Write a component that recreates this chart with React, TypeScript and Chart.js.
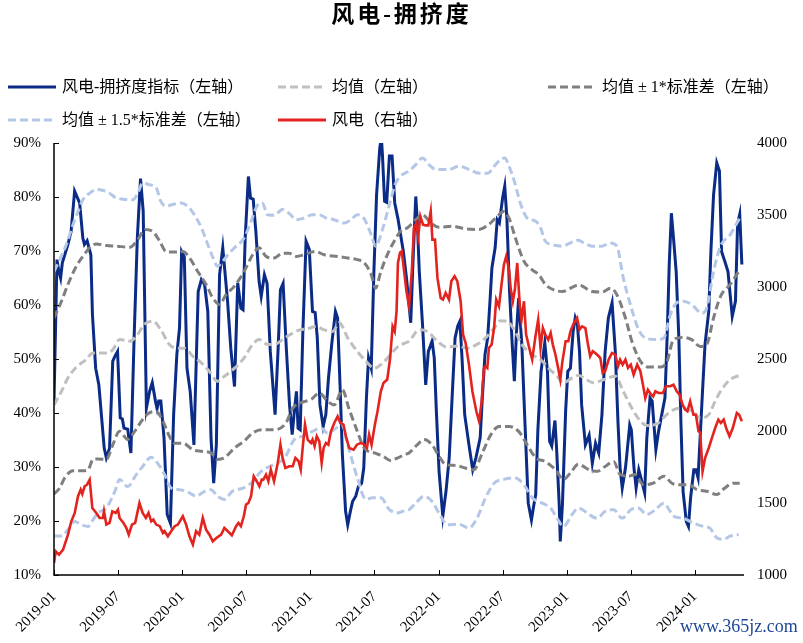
import React, { useEffect, useRef } from "react";
import { Chart, registerables } from "chart.js";

Chart.register(...registerables);

// x = months since 2019-01, y = value
const tickMonths = [0, 6, 12, 18, 24, 30, 36, 42, 48, 54, 60];
const tickLabels = ["2019-01", "2019-07", "2020-01", "2020-07", "2021-01", "2021-07", "2022-01", "2022-07", "2023-01", "2023-07", "2024-01"];

// 风电-拥挤度指标 (%), left axis
const crowding: [number, number][] = [
  [0, 42.2], [0.28, 68.4], [0.43, 66.5], [0.62, 65.0], [0.78, 67.8], [1.3, 71.2], [1.6, 73.6], [1.93, 81.1], [2.4, 78.9], [2.7, 72.4],
  [2.85, 71.2], [3.1, 71.9], [3.45, 69.3], [3.6, 58.2], [3.9, 48.3], [4.2, 45.2], [4.7, 33.5], [4.9, 31.7], [5.2, 33.5], [5.5, 49.6],
  [5.7, 50.5], [5.95, 51.4], [6.2, 39.1], [6.4, 38.9], [6.55, 37.2], [6.9, 37.0], [7.2, 32.6], [7.5, 53.9], [7.8, 72.4], [8.1, 83.4],
  [8.35, 77.4], [8.65, 40.9], [8.95, 44.0], [9.2, 45.6], [9.5, 42.2], [9.65, 40.8], [9.8, 42.2], [10.0, 42.2], [10.3, 35.4], [10.6, 21.2],
  [10.9, 19.6], [11.2, 39.7], [11.5, 50.8], [11.75, 55.7], [11.95, 69.9], [12.2, 68.9], [12.45, 48.3], [12.75, 44.0], [13.1, 34.1], [13.5, 62.5],
  [13.8, 64.7], [14.1, 63.8], [14.4, 58.8], [14.7, 35.4], [14.95, 27.0], [15.2, 34.1], [15.5, 65.6], [15.8, 70.6], [16.25, 60.7], [16.55, 52.0],
  [16.9, 44.9], [17.2, 64.1], [17.5, 59.4], [17.7, 59.1], [17.9, 72.4], [18.2, 83.8], [18.4, 79.8], [18.65, 79.6], [18.9, 73.6], [19.2, 64.4],
  [19.4, 61.6], [19.7, 65.6], [19.95, 64.0], [20.25, 51.4], [20.7, 39.7], [21.0, 52.7], [21.2, 62.8], [21.45, 64.0], [21.75, 52.0], [22.05, 41.5],
  [22.3, 36.0], [22.5, 40.3], [22.7, 44.0], [22.85, 37.2], [23.05, 36.9], [23.3, 55.1], [23.6, 71.8], [23.9, 70.3], [24.2, 58.8], [24.45, 58.6],
  [24.65, 53.9], [24.9, 41.5], [25.2, 37.5], [25.45, 39.7], [25.7, 46.5], [26.0, 52.7], [26.35, 58.8], [26.55, 57.6], [26.8, 44.0], [27.0, 32.3],
  [27.3, 21.8], [27.5, 19.3], [27.75, 21.8], [27.95, 23.6], [28.25, 24.6], [28.5, 26.4], [28.8, 27.0], [29.0, 29.8], [29.25, 42.8], [29.45, 50.2],
  [29.7, 48.3], [29.95, 66.2], [30.2, 80.4], [30.5, 89.1], [30.65, 91.0], [30.75, 87.8], [30.95, 79.2], [31.15, 79.0], [31.4, 87.6], [31.65, 87.6],
  [31.9, 78.9], [32.2, 76.0], [32.7, 70.0], [33.0, 65.0], [33.4, 56.7], [33.6, 67.5], [33.87, 80.1], [34.0, 76.1], [34.2, 66.2], [34.5, 56.4],
  [34.8, 45.2], [35.05, 51.4], [35.4, 53.3], [35.6, 50.2], [35.8, 40.3], [36.05, 29.2], [36.4, 20.9], [36.7, 25.5], [37.0, 31.7], [37.3, 44.0],
  [37.55, 53.9], [37.8, 56.1], [38.0, 57.0], [38.2, 50.2], [38.45, 39.7], [38.85, 34.1], [39.2, 29.5], [39.5, 31.7], [39.9, 35.4], [40.1, 42.8],
  [40.35, 50.8], [40.6, 53.9], [40.8, 60.1], [41.0, 66.9], [41.3, 70.6], [41.5, 75.8], [41.7, 75.2], [42.0, 79.8], [42.2, 82.0], [42.4, 76.1],
  [42.65, 62.5], [42.9, 52.7], [43.1, 45.9], [43.3, 55.1], [43.5, 61.3], [43.8, 52.7], [44.1, 37.8], [44.4, 23.3], [44.7, 20.2], [44.9, 22.7],
  [45.1, 24.9], [45.3, 36.8], [45.6, 47.7], [45.95, 53.0], [46.2, 47.7], [46.4, 34.8], [46.6, 33.9], [46.9, 38.6], [47.05, 33.6], [47.3, 23.0],
  [47.4, 16.2], [47.6, 23.0], [47.9, 40.3], [48.1, 47.7], [48.35, 48.3], [48.6, 55.1], [48.8, 57.6], [49.0, 56.4], [49.2, 51.4], [49.4, 41.5],
  [49.75, 34.1], [50.1, 35.9], [50.4, 30.7], [50.7, 34.4], [51.0, 32.6], [51.3, 39.7], [51.6, 51.4], [51.9, 57.6], [52.25, 60.4], [52.55, 51.4],
  [52.8, 38.4], [53.0, 29.8], [53.2, 26.1], [53.5, 29.8], [53.6, 31.7], [53.9, 37.8], [54.05, 36.9], [54.3, 29.8], [54.5, 26.1], [54.75, 29.5],
  [54.95, 28.0], [55.3, 25.2], [55.5, 35.4], [55.8, 42.8], [56.0, 42.2], [56.35, 33.2], [56.6, 36.6], [56.9, 39.7], [57.2, 42.8], [57.4, 53.9],
  [57.6, 67.5], [57.8, 77.0], [58.0, 72.4], [58.25, 66.2], [58.5, 53.9], [58.7, 37.8], [58.9, 25.4], [59.2, 19.9], [59.4, 19.0], [59.6, 24.3],
  [59.9, 29.5], [60.1, 29.5], [60.3, 28.0], [60.65, 41.5], [60.95, 52.7], [61.3, 58.8], [61.5, 69.9], [61.75, 80.4], [62.05, 86.3], [62.3, 84.8],
  [62.5, 69.9], [62.8, 68.1], [63.1, 66.2], [63.3, 62.0], [63.5, 57.9], [63.8, 60.7], [64.0, 75.0], [64.2, 76.8], [64.4, 67.5],
];

// 均值 (%)
const meanLine: [number, number][] = [
  [0, 41.5], [0.7, 44.0], [1.3, 46.5], [2.1, 48.5], [3.0, 49.9], [3.65, 51.1], [4.74, 51.1], [5.5, 51.7], [6.14, 53.6], [7.1, 53.3],
  [7.7, 54.2], [8.5, 56.5], [9.26, 57.0], [10.0, 55.4], [10.8, 52.7], [11.6, 52.0], [12.2, 52.0], [13.0, 50.5], [13.8, 49.3], [14.55, 47.7],
  [15.3, 45.9], [15.95, 46.8], [16.9, 48.3], [17.8, 50.2], [18.6, 52.7], [19.2, 53.6], [20.0, 52.7], [20.6, 52.7], [21.6, 53.9], [22.35, 54.8],
  [23.0, 55.4], [23.75, 55.6], [24.5, 56.0], [25.3, 55.4], [26.1, 55.1], [26.7, 56.7], [27.5, 53.9], [28.4, 51.4], [29.2, 49.6], [30.0, 48.3],
  [30.8, 49.3], [31.5, 50.8], [32.2, 52.3], [32.8, 52.9], [33.24, 53.3], [34.2, 55.4], [34.95, 55.1], [35.9, 53.3], [36.8, 52.2], [37.8, 52.4],
  [38.7, 52.0], [39.6, 52.7], [40.4, 53.9], [41.2, 55.7], [41.8, 57.1], [42.4, 57.0], [43.1, 55.4], [43.8, 52.7], [44.77, 50.8], [45.55, 49.9],
  [46.3, 48.3], [47.1, 46.8], [47.7, 45.6], [48.5, 46.5], [49.1, 47.0], [49.6, 46.5], [50.5, 45.6], [51.5, 46.2], [52.55, 46.8], [53.3, 44.0],
  [54.1, 40.9], [54.9, 38.5], [55.5, 37.7], [56.45, 38.0], [57.2, 39.4], [58.0, 40.6], [58.8, 40.9], [59.7, 40.3], [60.5, 39.1], [61.3, 39.7],
  [61.9, 42.2], [62.5, 44.3], [63.3, 46.2], [64.4, 47.1],
];

// 均值 + 1*标准差 (%)
const upper1: [number, number][] = [
  [0, 57.6], [0.7, 60.7], [1.3, 63.8], [2.1, 67.2], [2.7, 69.0], [3.34, 70.6], [3.96, 71.3], [4.9, 71.0], [5.83, 70.9], [7.1, 70.7],
  [7.85, 72.1], [8.5, 74.0], [9.26, 73.6], [9.9, 71.8], [10.5, 69.9], [11.3, 69.8], [12.06, 69.9], [12.7, 68.7], [13.46, 66.2], [14.24, 63.8],
  [14.87, 61.3], [15.5, 60.1], [16.1, 61.9], [16.9, 63.5], [17.8, 66.2], [18.6, 69.3], [19.2, 70.6], [19.85, 69.0], [20.6, 68.7], [21.4, 69.6],
  [22.0, 69.6], [22.7, 69.0], [23.4, 69.3], [24.5, 69.9], [25.3, 69.3], [26.55, 69.0], [27.5, 68.7], [28.4, 68.4], [29.05, 67.8], [29.7, 65.6],
  [30.1, 63.1], [30.6, 66.2], [31.2, 69.3], [31.85, 71.8], [32.5, 73.8], [33.1, 74.3], [33.87, 75.8], [34.5, 76.7], [35.27, 75.2], [36.05, 74.4],
  [37.3, 74.6], [38.5, 74.1], [39.8, 74.0], [40.7, 74.9], [41.35, 76.1], [42.1, 77.3], [42.6, 76.1], [43.2, 72.4], [44.0, 68.1], [44.77, 66.5],
  [45.4, 65.6], [46.0, 63.8], [46.8, 62.8], [47.6, 62.5], [48.35, 63.1], [49.1, 63.7], [50.4, 62.5], [51.3, 62.4], [52.1, 63.1], [52.7, 61.9],
  [53.5, 57.6], [54.1, 53.3], [54.9, 49.6], [55.67, 48.5], [56.8, 48.5], [57.4, 49.6], [58.0, 53.6], [58.8, 54.0], [59.7, 53.6], [60.5, 52.3],
  [61.1, 52.7], [61.75, 57.6], [62.4, 61.6], [63.3, 63.8], [64.2, 66.5],
];

// 均值 - 1*标准差 (%)
const lower1: [number, number][] = [
  [0, 25.0], [0.53, 26.1], [1.0, 28.0], [1.78, 29.3], [2.7, 29.3], [3.2, 29.5], [3.65, 31.4], [4.1, 31.5], [4.9, 31.4], [5.5, 34.1],
  [6.14, 36.6], [6.9, 35.1], [7.55, 36.6], [8.3, 38.8], [8.9, 40.0], [9.57, 40.3], [10.2, 38.5], [10.8, 35.7], [11.3, 34.4], [12.06, 34.4],
  [13.0, 33.2], [13.8, 32.9], [14.7, 32.6], [15.3, 31.4], [15.95, 31.7], [16.9, 33.5], [17.8, 34.8], [18.6, 36.3], [19.4, 36.9], [20.6, 36.9],
  [21.7, 38.1], [22.35, 40.9], [23.1, 41.9], [24.06, 42.5], [24.84, 43.7], [25.6, 42.2], [26.24, 41.5], [27.0, 44.3], [27.6, 40.9], [28.4, 36.6],
  [29.05, 33.5], [30.0, 32.6], [30.8, 32.0], [31.5, 31.2], [32.2, 31.7], [32.8, 32.3], [33.24, 32.6], [34.0, 34.1], [34.65, 35.1], [35.4, 34.1],
  [36.05, 32.0], [36.7, 30.4], [37.6, 30.3], [38.5, 29.8], [39.3, 29.5], [40.1, 32.6], [40.9, 36.0], [41.66, 37.5], [42.6, 37.5], [43.5, 36.6],
  [44.3, 34.1], [45.1, 31.7], [46.0, 31.0], [46.95, 29.5], [47.7, 27.7], [48.35, 28.9], [49.1, 30.5], [50.1, 29.5], [50.84, 29.2], [51.6, 30.1],
  [52.4, 31.0], [53.0, 28.6], [53.8, 28.3], [54.4, 28.6], [55.2, 26.7], [56.1, 27.0], [57.1, 28.3], [57.85, 27.0], [58.6, 26.7], [59.4, 26.7],
  [60.2, 25.8], [61.1, 25.5], [62.05, 24.9], [62.8, 26.1], [63.6, 27.0], [64.2, 27.0],
];

// 均值 + 1.5*标准差 (%)
const upper15: [number, number][] = [
  [0, 66.2], [0.53, 68.4], [1.16, 71.2], [1.78, 74.9], [2.25, 77.3], [2.7, 79.5], [3.34, 80.7], [3.96, 81.4], [4.6, 81.2], [5.2, 80.7],
  [5.83, 79.8], [6.45, 79.6], [7.4, 79.5], [7.85, 80.7], [8.3, 82.6], [8.9, 82.3], [9.57, 81.7], [10.0, 79.2], [10.5, 78.3], [11.1, 78.6],
  [11.9, 78.9], [12.5, 78.3], [13.15, 76.7], [13.8, 74.3], [14.4, 71.2], [14.9, 68.7], [15.3, 67.2], [15.8, 68.1], [16.4, 69.6], [16.9, 70.6],
  [17.8, 72.4], [18.45, 75.5], [19.1, 78.6], [19.5, 78.9], [20.0, 76.7], [20.6, 76.6], [21.4, 77.7], [22.0, 77.0], [22.7, 75.8], [23.4, 76.1],
  [24.2, 76.7], [24.8, 76.7], [25.5, 76.1], [26.2, 75.8], [27.2, 75.2], [27.8, 75.8], [28.4, 76.7], [29.0, 76.1], [29.7, 73.0], [30.1, 70.9],
  [30.8, 74.3], [31.4, 78.6], [32.0, 82.6], [32.6, 84.1], [33.24, 84.8], [33.87, 86.0], [34.5, 87.2], [35.1, 86.0], [35.74, 85.1], [36.98, 85.1],
  [37.9, 85.7], [38.85, 85.1], [39.8, 84.4], [40.6, 84.4], [41.2, 85.7], [41.8, 86.9], [42.2, 87.2], [42.6, 85.7], [43.1, 82.9], [43.7, 78.6],
  [44.3, 76.1], [45.1, 75.5], [45.55, 74.3], [46.0, 71.8], [46.6, 71.2], [47.6, 70.9], [48.35, 71.5], [49.1, 72.0], [49.6, 71.5], [50.4, 70.9],
  [51.3, 70.9], [52.1, 71.5], [52.7, 70.9], [53.3, 65.0], [53.96, 60.1], [54.74, 55.4], [55.36, 53.9], [56.45, 53.6], [57.1, 53.9], [57.7, 58.2],
  [58.3, 60.4], [58.9, 60.7], [59.7, 60.1], [60.65, 58.5], [61.1, 59.4], [61.75, 66.2], [62.4, 70.9], [63.3, 73.0], [64.2, 76.1],
];

// 均值 - 1.5*标准差 (%)
const lower15: [number, number][] = [
  [0, 17.2], [0.7, 17.2], [1.3, 18.4], [1.94, 19.9], [2.56, 19.3], [3.2, 19.0], [3.65, 20.2], [4.1, 21.5], [4.9, 22.4], [5.7, 25.5],
  [6.14, 27.7], [6.9, 26.4], [7.7, 28.6], [8.3, 30.1], [9.1, 31.8], [9.7, 30.7], [10.35, 28.6], [10.97, 26.1], [11.75, 25.8], [12.5, 25.4],
  [13.3, 24.6], [14.1, 25.5], [14.7, 25.8], [15.3, 24.6], [15.95, 24.0], [16.7, 25.5], [17.7, 26.1], [18.45, 27.0], [19.4, 29.2], [20.5, 30.4],
  [21.6, 31.7], [22.5, 35.1], [23.3, 35.7], [24.2, 36.6], [25.0, 37.2], [25.6, 36.3], [26.4, 37.2], [26.9, 38.1], [27.5, 34.1], [28.4, 28.0],
  [29.2, 24.0], [29.8, 24.3], [30.6, 24.3], [31.4, 22.1], [32.2, 21.5], [32.8, 21.9], [33.24, 22.1], [34.0, 23.6], [34.65, 24.6], [35.4, 23.6],
  [36.2, 20.9], [36.8, 19.3], [37.9, 19.4], [38.85, 18.7], [39.6, 20.5], [40.4, 24.3], [41.2, 27.0], [42.1, 27.7], [43.1, 28.0], [44.0, 26.7],
  [44.77, 24.3], [45.7, 23.3], [46.5, 22.4], [47.1, 20.5], [47.7, 19.0], [48.5, 21.2], [49.1, 22.4], [50.1, 21.2], [50.84, 20.5], [51.6, 21.8],
  [52.4, 22.1], [53.2, 20.5], [54.0, 22.1], [54.7, 22.4], [55.5, 21.2], [56.3, 22.1], [57.1, 23.3], [57.5, 22.4], [58.0, 20.9], [58.9, 20.5],
  [59.9, 19.6], [60.8, 19.0], [61.4, 18.7], [62.05, 16.9], [62.7, 16.6], [63.3, 17.2], [64.1, 17.5],
];

// 风电 index, right axis
const windIndex: [number, number][] = [
  [0, 1083], [0.16, 1165], [0.47, 1142], [0.85, 1176], [1.31, 1280], [1.62, 1373], [1.94, 1431], [2.25, 1547], [2.5, 1593], [2.65, 1563],
  [2.87, 1616], [3.09, 1627], [3.34, 1662], [3.59, 1465], [3.96, 1431], [4.27, 1396], [4.58, 1396], [4.68, 1442], [4.9, 1350], [5.2, 1362],
  [5.46, 1442], [5.77, 1431], [5.99, 1454], [6.14, 1396], [6.5, 1362], [6.77, 1327], [7.0, 1280], [7.3, 1350], [7.6, 1362], [8.0, 1500],
  [8.3, 1431], [8.6, 1396], [8.85, 1431], [9.1, 1373], [9.3, 1385], [9.57, 1350], [9.9, 1339], [10.2, 1292], [10.35, 1304], [10.66, 1269],
  [10.97, 1304], [11.3, 1339], [11.6, 1350], [12.06, 1408], [12.37, 1350], [12.68, 1269], [13.0, 1211], [13.3, 1304], [13.6, 1280], [13.93, 1396],
  [14.24, 1315], [14.55, 1280], [14.87, 1234], [15.2, 1257], [15.65, 1280], [15.95, 1327], [16.27, 1304], [16.65, 1276], [17.05, 1339], [17.27, 1362],
  [17.5, 1339], [17.77, 1408], [17.98, 1489], [18.2, 1500], [18.45, 1547], [18.7, 1685], [18.98, 1651], [19.23, 1616], [19.45, 1662], [19.6, 1662],
  [19.85, 1697], [20.07, 1651], [20.3, 1731], [20.6, 1651], [20.95, 1778], [21.2, 1905], [21.4, 1813], [21.66, 1743], [22.03, 1755], [22.35, 1755],
  [22.6, 1813], [22.9, 1790], [23.1, 1731], [23.28, 1882], [23.5, 2044], [23.75, 1940], [24.06, 1917], [24.2, 1940], [24.4, 1894], [24.6, 1963],
  [24.84, 1928], [25.06, 1778], [25.24, 1882], [25.46, 1917], [25.68, 1905], [25.93, 1998], [26.24, 2056], [26.55, 2102], [26.8, 2056], [27.1, 2044],
  [27.33, 1963], [27.64, 1882], [28.05, 1870], [28.36, 1905], [28.73, 1917], [29.05, 1905], [29.3, 1882], [29.5, 1975], [29.73, 1905], [30.04, 2044],
  [30.29, 2137], [30.6, 2276], [30.85, 2334], [31.2, 2357], [31.47, 2507], [31.7, 2727], [31.9, 2692], [32.07, 2831], [32.2, 3167], [32.4, 3240],
  [32.56, 3248], [32.78, 3109], [33.0, 2970], [33.24, 2866], [33.5, 3109], [33.7, 3410], [33.93, 3444], [34.1, 3352], [34.3, 3491], [34.55, 3433],
  [34.8, 3428], [35.05, 3428], [35.27, 3526], [35.43, 3329], [35.67, 3329], [35.9, 3063], [36.2, 2924], [36.42, 2913], [36.67, 2959], [36.98, 2913],
  [37.2, 3040], [37.5, 3075], [37.76, 3040], [38.07, 2901], [38.3, 2669], [38.54, 2611], [38.85, 2461], [39.17, 2276], [39.54, 2137], [39.8, 2067],
  [40.04, 2206], [40.25, 2438], [40.4, 2450], [40.57, 2438], [40.72, 2577], [40.97, 2600], [41.2, 2715], [41.4, 2913], [41.66, 2866], [41.9, 3017],
  [42.12, 3155], [42.34, 3213], [42.6, 3121], [42.75, 2994], [42.96, 2901], [43.15, 2982], [43.37, 3167], [43.6, 2878], [43.77, 2773], [44.0, 2901],
  [44.2, 2669], [44.46, 2588], [44.77, 2496], [45.1, 2669], [45.33, 2773], [45.55, 2577], [45.77, 2715], [46.0, 2669], [46.27, 2634], [46.5, 2681],
  [46.7, 2600], [46.95, 2530], [47.2, 2438], [47.4, 2357], [47.6, 2484], [47.9, 2623], [48.15, 2623], [48.35, 2692], [48.67, 2750], [48.97, 2785],
  [49.2, 2704], [49.44, 2727], [49.75, 2715], [49.97, 2611], [50.2, 2519], [50.44, 2554], [50.7, 2540], [51.0, 2519], [51.15, 2507], [51.37, 2403],
  [51.6, 2415], [51.93, 2496], [52.24, 2542], [52.55, 2530], [52.8, 2449], [53.0, 2496], [53.24, 2461], [53.5, 2496], [53.74, 2438], [54.0, 2461],
  [54.27, 2391], [54.6, 2461], [54.9, 2415], [55.14, 2322], [55.36, 2229], [55.6, 2287], [55.9, 2253], [56.1, 2241], [56.3, 2276], [56.6, 2264],
  [57.0, 2264], [57.3, 2311], [57.7, 2311], [58.0, 2322], [58.3, 2276], [58.57, 2253], [58.85, 2183], [59.1, 2148], [59.3, 2137], [59.56, 2206],
  [59.87, 2113], [60.1, 2113], [60.34, 1998], [60.5, 1990], [60.72, 1720], [60.96, 1813], [61.3, 1882], [61.6, 1952], [61.9, 2021], [62.2, 2079],
  [62.43, 2056], [62.7, 2079], [62.93, 2021], [63.24, 1963], [63.55, 2021], [63.93, 2125], [64.15, 2113], [64.4, 2067],
];

const NAVY = "#0B2C86";
const RED = "#E3231E";
const MEAN_C = "#BFBFBF";
const STD1_C = "#7F7F7F";
const STD15_C = "#B4C7E7";
const SERIF = '"Liberation Serif", "Times New Roman", "Noto Sans CJK SC", serif';
const CJK = '"Liberation Serif", "Noto Sans CJK SC", serif';

const toPts = (arr: [number, number][]) => arr.map(([x, y]) => ({ x, y }));

const inwardAxes = {
  id: "inwardAxes",
  afterDatasetsDraw(chart: any) {
    const { ctx, chartArea: a, scales } = chart;
    ctx.save();
    ctx.strokeStyle = "#000";
    ctx.lineWidth = 1.5;
    ctx.beginPath();
    ctx.moveTo(a.left, a.top);
    ctx.lineTo(a.left, a.bottom);
    ctx.lineTo(a.right, a.bottom);
    ctx.stroke();
    ctx.lineWidth = 1;
    ctx.beginPath();
    scales.y.ticks.forEach((t: any) => {
      const y = Math.round(scales.y.getPixelForValue(t.value)) + 0.5;
      ctx.moveTo(a.left, y);
      ctx.lineTo(a.left + 5, y);
    });
    scales.x.ticks.forEach((t: any) => {
      const x = Math.round(scales.x.getPixelForValue(t.value)) + 0.5;
      ctx.moveTo(x, a.bottom);
      ctx.lineTo(x, a.bottom - 5);
    });
    ctx.stroke();
    ctx.restore();
  },
};

function LegendLine({ color, dashed }: { color: string; dashed: boolean }) {
  return (
    <svg width={48} height={6} style={{ display: "block" }}>
      <line x1={0} y1={3} x2={48} y2={3} stroke={color} strokeWidth={3} strokeDasharray={dashed ? "8 4" : undefined} />
    </svg>
  );
}

function LegendItem({ left, top, color, dashed, label }: { left: number; top: number; color: string; dashed: boolean; label: string }) {
  return (
    <div style={{ position: "absolute", left, top, height: 20, display: "flex", alignItems: "center", whiteSpace: "nowrap" }}>
      <LegendLine color={color} dashed={dashed} />
      <span style={{ marginLeft: 6, fontFamily: CJK, fontSize: 16, color: "#000", lineHeight: "20px" }}>{label}</span>
    </div>
  );
}

export default function App() {
  const canvasRef = useRef<HTMLCanvasElement | null>(null);

  useEffect(() => {
    if (!canvasRef.current) return;
    const tickFont = { family: SERIF, size: 15 };
    const band = (label: string, pts: [number, number][], color: string, order: number) => ({
      label,
      data: toPts(pts),
      borderColor: color,
      borderWidth: 3,
      borderDash: [8, 4],
      pointRadius: 0,
      cubicInterpolationMode: "monotone" as const,
      yAxisID: "y",
      order,
    });
    const chart = new Chart(canvasRef.current, {
      type: "line",
      data: {
        datasets: [
          { label: "风电-拥挤度指标（左轴）", data: toPts(crowding), borderColor: NAVY, borderWidth: 3, pointRadius: 0, tension: 0, yAxisID: "y", order: 6 },
          band("均值（左轴）", meanLine, MEAN_C, 5),
          band("均值+1*标准差（左轴）", upper1, STD1_C, 4),
          band("均值-1*标准差（左轴）", lower1, STD1_C, 4),
          band("均值+1.5*标准差（左轴）", upper15, STD15_C, 3),
          band("均值-1.5*标准差（左轴）", lower15, STD15_C, 3),
          { label: "风电（右轴）", data: toPts(windIndex), borderColor: RED, borderWidth: 2.6, pointRadius: 0, tension: 0, yAxisID: "y1", order: 1 },
        ] as any,
      },
      options: {
        animation: false,
        responsive: false,
        maintainAspectRatio: false,
        devicePixelRatio: 1,
        layout: { padding: { top: 143, left: 0, right: 0, bottom: 0 } },
        plugins: { legend: { display: false }, title: { display: false }, tooltip: { enabled: false } },
        scales: {
          x: {
            type: "linear",
            min: 0,
            max: 64.6,
            grid: { display: false, drawTicks: false },
            border: { display: false },
            afterBuildTicks: (s: any) => {
              s.ticks = tickMonths.map((v) => ({ value: v }));
            },
            afterFit: (s: any) => {
              s.height = 68;
            },
            ticks: {
              autoSkip: false,
              minRotation: 45,
              maxRotation: 45,
              padding: 13,
              color: "#000",
              font: tickFont,
              callback: (v: any) => {
                const i = tickMonths.indexOf(Number(v));
                return i >= 0 ? tickLabels[i] : "";
              },
            },
          },
          y: {
            type: "linear",
            position: "left",
            min: 10,
            max: 90,
            grid: { display: false, drawTicks: false },
            border: { display: false },
            afterFit: (s: any) => {
              s.width = 54;
            },
            ticks: { stepSize: 10, padding: 13, color: "#000", font: tickFont, callback: (v: any) => `${v}%` },
          },
          y1: {
            type: "linear",
            position: "right",
            min: 1000,
            max: 4000,
            grid: { display: false, drawTicks: false },
            border: { display: false },
            afterFit: (s: any) => {
              s.width = 59;
            },
            ticks: { stepSize: 500, padding: 13, color: "#000", font: tickFont, callback: (v: any) => String(v) },
          },
        },
      } as any,
      plugins: [inwardAxes],
    });
    return () => chart.destroy();
  }, []);

  return (
    <div style={{ position: "fixed", left: 0, top: 0, width: 803, height: 643, background: "#fff", overflow: "hidden" }}>
      <canvas ref={canvasRef} width={803} height={643} style={{ position: "absolute", left: 0, top: 0, width: 803, height: 643 }} />
      <div
        style={{
          position: "absolute",
          left: 0,
          top: 1,
          width: 803,
          textAlign: "center",
          fontFamily: CJK,
          fontWeight: "bold",
          fontSize: 23,
          letterSpacing: 3,
          lineHeight: "28px",
          color: "#000",
        }}
      >
        风电-拥挤度
      </div>
      <LegendItem left={8} top={77} color={NAVY} dashed={false} label="风电-拥挤度指标（左轴）" />
      <LegendItem left={278} top={77} color={MEAN_C} dashed={true} label="均值（左轴）" />
      <LegendItem left={548} top={77} color={STD1_C} dashed={true} label="均值 ± 1*标准差（左轴）" />
      <LegendItem left={8} top={110} color={STD15_C} dashed={true} label="均值 ± 1.5*标准差（左轴）" />
      <LegendItem left={278} top={110} color={RED} dashed={false} label="风电（右轴）" />
      <div
        style={{
          position: "absolute",
          left: 680,
          top: 615,
          fontFamily: SERIF,
          fontSize: 18,
          lineHeight: "22px",
          color: "#1E4796",
          whiteSpace: "nowrap",
        }}
      >
        www.365jz.com
      </div>
    </div>
  );
}
